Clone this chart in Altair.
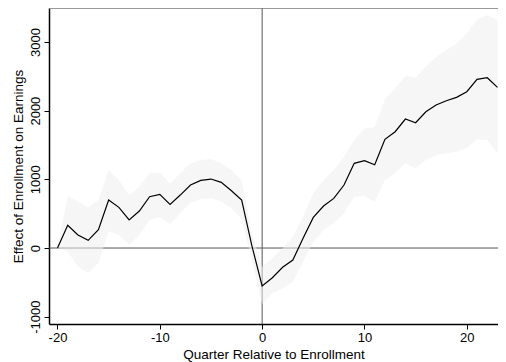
import altair as alt
import pandas as pd

quarters = list(range(-20, 24))
estimate = [0, 330, 189, 112, 267, 699, 592, 408, 539, 747, 780, 636, 771, 917, 985, 1004,
            956, 834, 699, 30, -551, -432, -281, -175, 141, 446, 611, 723, 917, 1233, 1271,
            1213, 1582, 1693, 1878, 1824, 1984, 2081, 2144, 2193, 2275, 2455, 2479, 2339]
upper = [0, 757, 674, 592, 699, 1135, 990, 771, 893, 1087, 1097, 941, 1087, 1233, 1281, 1295,
         1233, 1135, 980, 218, -276, -150, -5, 165, 456, 796, 990, 1135, 1329, 1572, 1740,
         1760, 2164, 2325, 2504, 2484, 2639, 2785, 2882, 2979, 3124, 3328, 3391, 3319]
lower = [0, -53, -272, -369, -223, 247, 189, 44, 189, 408, 446, 345, 505, 660, 713, 723,
         674, 577, 420, -175, -815, -660, -587, -490, -199, 92, 262, 359, 505, 747, 757,
         674, 990, 1087, 1233, 1160, 1281, 1354, 1378, 1402, 1451, 1582, 1572, 1378]
x_ticks = [-20, -10, 0, 10, 20]
y_ticks = [-1000, 0, 1000, 2000, 3000]

df = pd.DataFrame({"q": quarters, "est": estimate, "hi": upper, "lo": lower})

W, H = 449, 316
xs = alt.Scale(domain=[-20.83, 23.05], nice=False, zero=False)
ys = alt.Scale(domain=[-1106, 3494], nice=False, zero=False)

base = alt.Chart(df)

xaxis = alt.Axis(values=x_ticks, title="Quarter Relative to Enrollment", grid=False,
                 labelExpr="datum.value + ''",
                 labelPadding=2, titlePadding=3, tickSize=5)
yaxis = alt.Axis(values=y_ticks, title="Effect of Enrollment on Earnings", grid=False,
                 labelExpr="datum.value + ''",
                 labelAngle=270, labelAlign="center", labelBaseline="bottom",
                 labelPadding=2, titlePadding=4, tickSize=5)

hrule = alt.Chart(pd.DataFrame({"y": [0]})).mark_rule(color="#555555", strokeWidth=1).encode(
    y=alt.Y("y:Q", scale=ys, axis=yaxis))
vrule = alt.Chart(pd.DataFrame({"x": [0]})).mark_rule(color="#555555", strokeWidth=1).encode(
    x=alt.X("x:Q", scale=xs, axis=xaxis))

band = base.mark_area(color="#eeeeee", opacity=0.55).encode(
    x=alt.X("q:Q", scale=xs, axis=xaxis),
    y=alt.Y("lo:Q", scale=ys, axis=yaxis),
    y2="hi:Q",
)
line = base.mark_line(color="black", strokeWidth=1.2).encode(
    x=alt.X("q:Q", scale=xs, axis=xaxis),
    y=alt.Y("est:Q", scale=ys, axis=yaxis),
)
topline = alt.Chart(pd.DataFrame({"a": [0]})).mark_rule(color="#777777", strokeWidth=1.5).encode(
    x=alt.value(0), x2=alt.value(W), y=alt.value(0))

chart = alt.layer(hrule, vrule, band, line, topline).properties(
    width=W, height=H,
    autosize=alt.AutoSizeParams(type="none"),
    padding={"left": 41, "top": 0, "right": 0, "bottom": 38},
).configure_view(stroke=None).configure_axis(
    domainColor="black", domainWidth=1.5, tickColor="black", tickWidth=1,
    labelFont="Liberation Sans", titleFont="Liberation Sans",
    labelFontSize=13, titleFontSize=13.5, labelColor="black", titleColor="black",
    titleFontWeight="normal",
)

chart.save("out.html", embed_options={"renderer": "svg", "actions": False})
